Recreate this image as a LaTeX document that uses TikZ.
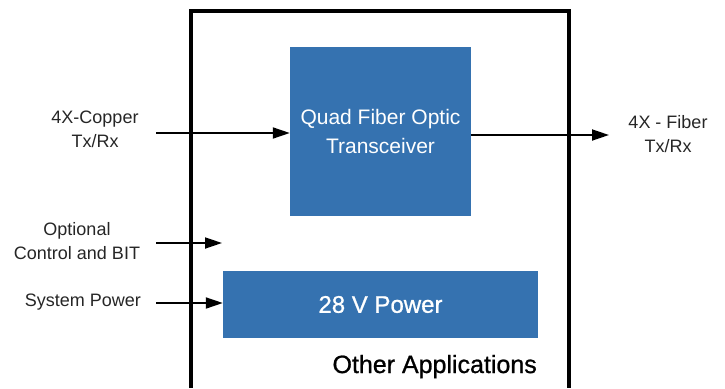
\documentclass[tikz,border=0pt]{standalone}
\usepackage{fontspec}
\setmainfont{Liberation Sans}
\newfontface\medface{Liberation Sans}[FakeBold=0.9]
\usetikzlibrary{arrows.meta}
\definecolor{bluebox}{RGB}{53,114,176}

\begin{document}
\begin{tikzpicture}[x=1pt, y=-1pt,
        % Stile per i blocchi pieni (blu)
        block/.style={fill=bluebox, draw=none, text=white, inner sep=0pt, align=center},
        % Stile per le etichette dei segnali
        sigtext/.style={font=\fontsize{18}{24}\selectfont, text=black!85, align=center, inner sep=0pt},
        % Stile per le frecce dei segnali
        link/.style={-{Triangle[length=17pt, width=11pt]}, line width=1.8pt}
    ]
        \useasboundingbox (0,0) rectangle (725,388);

        % --- CONTENITORE (aperto in basso) ---
        \draw[line width=4pt] (191,388) -- (191,11) -- (569,11) -- (569,388);

        % --- BLOCCHI ---
        \node[block, minimum width=181pt, minimum height=169pt,
              font=\fontsize{21}{29}\selectfont] (qfo) at (380.5,131.5) {Quad Fiber Optic\\Transceiver};
        \node[block, minimum width=315pt, minimum height=67pt,
              font=\medface\fontsize{24}{28}\selectfont] (pwr) at (380.5,304.5) {28 V Power};
        \node[anchor=base east, inner sep=0pt,
              font=\medface\fontsize{25}{28}\selectfont] (oth) at (537,373) {Other Applications};

        % --- ETICHETTE ---
        \node[sigtext] (cu)  at (95,129)  {4X-Copper\\Tx/Rx};
        \node[sigtext] (ctl) at (77,241)  {Optional\\Control and BIT};
        \node[sigtext, anchor=east] (sys) at (141,302) {System Power};
        \node[sigtext] (fib) at (668,134) {4X - Fiber\\Tx/Rx};

        % --- ESTREMI LIBERI ---
        \coordinate (cuin)  at (156,133);
        \coordinate (ctlin) at (156,243);
        \coordinate (ctlend) at (222,243);
        \coordinate (sysin) at (156,303);
        \coordinate (fibout) at (609,135);

        % --- FRECCE ---
        \draw[link] (cuin) -- (cuin -| qfo.west);
        \draw[link] (ctlin) -- (ctlend);
        \draw[link] (sysin) -- (sysin -| pwr.west);
        \draw[link] (qfo.east |- fibout) -- (fibout);

    \end{tikzpicture}
\end{document}
